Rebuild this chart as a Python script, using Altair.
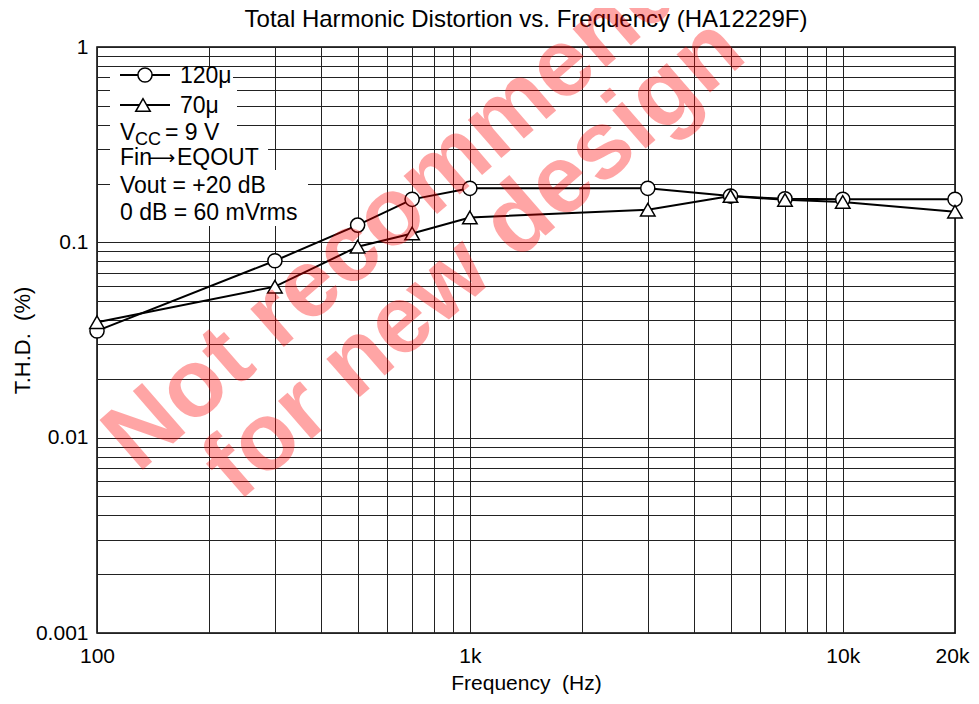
import altair as alt
import pandas as pd

# ---------------- data ----------------
freq_hz = [100, 300, 500, 700, 1000, 3000, 5000, 7000, 10000, 20000]
thd_120u = [0.0352, 0.0805, 0.1225, 0.166, 0.189, 0.189, 0.1725, 0.167, 0.166, 0.166]
thd_70u = [0.039, 0.0593, 0.095, 0.111, 0.134, 0.147, 0.1725, 0.165, 0.161, 0.1435]
series_labels = ["120μ", "70μ"]

x_grid_values = [100, 200, 300, 400, 500, 600, 700, 800, 900,
                 1000, 2000, 3000, 4000, 5000, 6000, 7000, 8000, 9000,
                 10000, 20000]
x_tick_labels = {100: "100", 1000: "1k", 10000: "10k", 20000: "20k"}
y_grid_values = [0.001, 0.002, 0.003, 0.004, 0.005, 0.006, 0.007, 0.008, 0.009,
                 0.01, 0.02, 0.03, 0.04, 0.05, 0.06, 0.07, 0.08, 0.09,
                 0.1, 0.2, 0.3, 0.4, 0.5, 0.6, 0.7, 0.8, 0.9, 1]
y_tick_labels = {0.001: "0.001", 0.01: "0.01", 0.1: "0.1", 1: "1"}

vcc_parts = ["V", "CC", "= 9 V"]
fin_parts = ["Fin", "⟶", "EQOUT"]
notes = ["Vout = +20 dB", "0 dB = 60 mVrms"]
title_text = "Total Harmonic Distortion vs. Frequency (HA12229F)"
x_title = "Frequency\u00a0\u00a0(Hz)"
y_title = "T.H.D.\u00a0\u00a0(%)"
watermark = ["Not recommended", "for new design"]

FONT = "Liberation Sans"
PLOT_X0, PLOT_Y0 = 97, 47  # page position of the plot origin (for annotations)

df = pd.DataFrame({
    "freq": freq_hz * 2,
    "thd": thd_120u + thd_70u,
    "series": [series_labels[0]] * len(freq_hz) + [series_labels[1]] * len(freq_hz),
})


def label_expr(mapping):
    parts = [f"datum.value == {v} ? '{t}'" for v, t in mapping.items()]
    return " : ".join(parts) + " : ''"


x_enc = alt.X("freq:Q",
              scale=alt.Scale(type="log", domain=[100, 20000], nice=False),
              axis=alt.Axis(values=x_grid_values, labelExpr=label_expr(x_tick_labels),
                            grid=True, ticks=False, domain=False, labelOverlap=False,
                            labelFlush=False, labelBound=False,
                            labelFont=FONT, labelFontSize=21, labelColor="black",
                            labelPadding=12, labelBaseline="top",
                            labelOffset={"condition": {"test": "datum.value == 20000",
                                                       "value": -3}, "value": 0},
                            title=x_title, titleFont=FONT, titleFontSize=21,
                            titleFontWeight="normal", titleColor="black",
                            titleX=429, titleY=50, titleBaseline="middle"))
y_enc = alt.Y("thd:Q",
              scale=alt.Scale(type="log", domain=[0.001, 1], nice=False),
              axis=alt.Axis(values=y_grid_values, labelExpr=label_expr(y_tick_labels),
                            grid=True, ticks=False, domain=False, labelOverlap=False,
                            labelFlush=False, labelBound=False,
                            labelFont=FONT, labelFontSize=21, labelColor="black",
                            labelPadding=9,
                            title=y_title, titleFont=FONT, titleFontSize=22,
                            titleFontWeight="normal", titleColor="black",
                            titleX=-75, titleY=293, titleBaseline="middle",
                            titleAngle=270))

base = alt.Chart(df)

lines = base.mark_line(color="black", strokeWidth=2).encode(
    x=x_enc, y=y_enc, detail="series:N")

circles = base.transform_filter(alt.datum.series == series_labels[0]).mark_point(
    shape="circle", filled=True, fill="white", stroke="black", strokeWidth=1.5,
    size=200, opacity=1).encode(x="freq:Q", y="thd:Q")

triangles = base.transform_filter(alt.datum.series == series_labels[1]).mark_point(
    shape="triangle-up", filled=True, fill="white", stroke="black", strokeWidth=1.5,
    size=210, opacity=1).encode(x="freq:Q", y="thd:Q")

one = pd.DataFrame({"k": [0]})
anno = alt.Chart(one)

# white backgrounds behind the legend / condition text rows
bg_rows = [(13, 136, 21, 42), (13, 140, 42, 69), (13, 140, 69, 96),
           (13, 171, 96, 123), (13, 211, 123, 151), (13, 213, 151, 179)]
bgs = [anno.mark_rect(color="white").encode(
    x=alt.value(a), x2=alt.value(b), y=alt.value(c), y2=alt.value(d))
    for a, b, c, d in bg_rows]

leg_line1 = anno.mark_rule(color="black", strokeWidth=2).encode(
    x=alt.value(23), x2=alt.value(73), y=alt.value(28))
leg_pt1 = anno.mark_point(shape="circle", filled=True, fill="white", stroke="black",
                          strokeWidth=1.5, size=200, opacity=1).encode(
    x=alt.value(48), y=alt.value(28))
leg_line2 = anno.mark_rule(color="black", strokeWidth=2).encode(
    x=alt.value(23), x2=alt.value(73), y=alt.value(58))
leg_pt2 = anno.mark_point(shape="triangle-up", filled=True, fill="white", stroke="black",
                          strokeWidth=1.5, size=210, opacity=1).encode(
    x=alt.value(46), y=alt.value(58))


def txt(s, x, y, size=23, dy=0, font=FONT, align="left"):
    return anno.mark_text(align=align, baseline="alphabetic", font=font,
                          fontSize=size, color="black", dy=dy).encode(
        x=alt.value(x), y=alt.value(y), text=alt.value(s))


texts = [
    txt(series_labels[0], 83, 36),
    txt(series_labels[1], 83, 66),
    txt(vcc_parts[0], 23, 93),
    txt(vcc_parts[1], 38, 93, size=18, dy=5),
    txt(vcc_parts[2], 68, 93),
    txt(fin_parts[0], 23, 118),
    txt(fin_parts[1], 51, 117, size=19, font="DejaVu Sans"),
    txt(fin_parts[2], 80, 118),
    txt(notes[0], 23, 146),
    txt(notes[1], 23, 173),
]

title_mark = txt(title_text, 429, -20, size=24, align="center")

# ---- watermark: two diagonal bold lines, left-aligned at their baseline start ----
WM_SIZE, WM_ANGLE = 96, 41
wm_starts = [(138, 474), (238, 503)]  # page px of each line's baseline start
wm = [anno.mark_text(align="left", baseline="alphabetic", font=FONT, fontSize=WM_SIZE,
                     fontWeight="bold", color="red", opacity=0.35,
                     angle=360 - WM_ANGLE).encode(
    x=alt.value(sx - PLOT_X0), y=alt.value(sy - PLOT_Y0), text=alt.value(s))
    for s, (sx, sy) in zip(watermark, wm_starts)]

chart = alt.layer(lines, *bgs, leg_line1, leg_line2, leg_pt1, leg_pt2, *texts,
                  title_mark, circles, triangles, *wm).properties(
    width=858, height=586,
    padding={"left": 89, "top": 39, "right": 16, "bottom": 61},
    autosize=alt.AutoSizeParams(type="none"),
).configure_view(stroke="black", strokeWidth=1.5).configure_axis(
    gridColor="#222222", gridWidth=1, gridOpacity=1)

chart.save("out.html", embed_options={"renderer": "svg", "actions": False})
